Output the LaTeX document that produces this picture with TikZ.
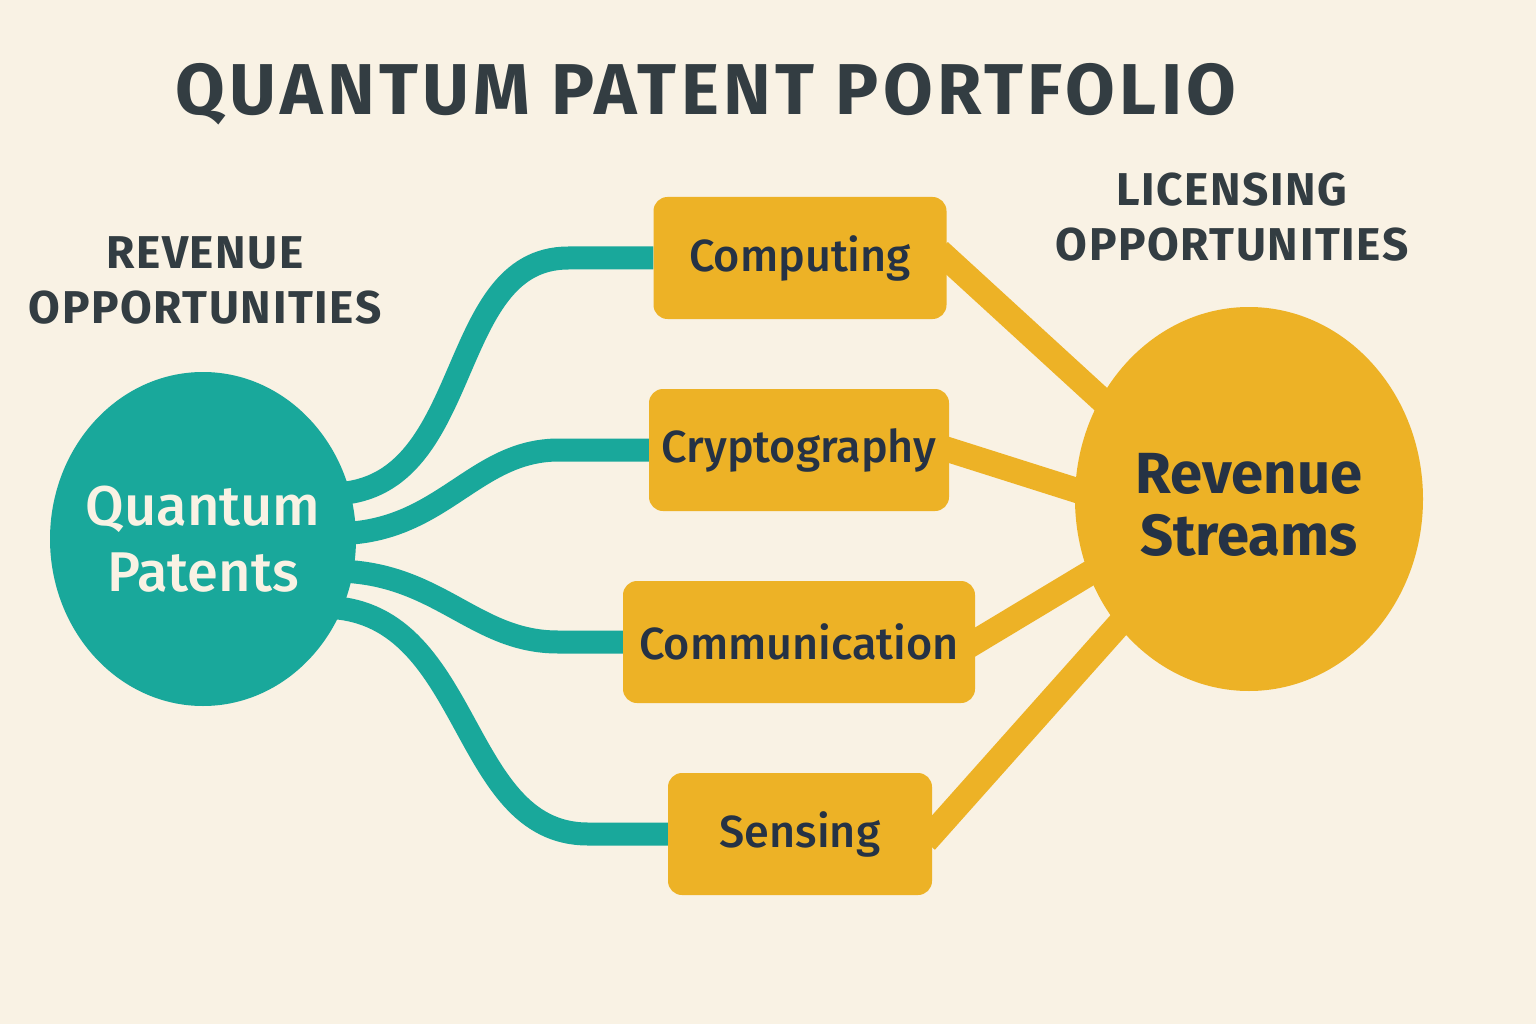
\documentclass[tikz,border=0pt]{standalone}
\usepackage{fontspec}
\setmainfont{Fira Sans}
\newfontfamily\mediumq{Fira Sans Medium}
\usetikzlibrary{shapes.geometric,calc}
\definecolor{paper}{HTML}{F9F2E4}
\definecolor{tealq}{HTML}{19A89B}
\definecolor{goldq}{HTML}{EDB226}
\definecolor{inkq}{HTML}{333D42}
\definecolor{navyq}{HTML}{253245}
\pgfdeclarelayer{background}
\pgfsetlayers{background,main}

\begin{document}
\begin{tikzpicture}
  [x=1pt,y=-1pt,every node/.style={inner sep=0pt},
   area/.style={fill=goldq,rounded corners=14pt,minimum height=122pt,text=navyq,font=\mediumq\fontsize{45}{50}\selectfont},
   heading/.style={text=inkq,align=center,font=\bfseries\fontsize{46}{55}\selectfont\addfontfeatures{LetterSpace=3.5}},
   branch/.style={draw=tealq,line width=23pt},
   stream/.style={draw=goldq,line width=25pt}]

  \node[text=inkq,font=\bfseries\fontsize{72}{80}\selectfont\addfontfeatures{LetterSpace=6}] (title) at (706,94) {QUANTUM PATENT PORTFOLIO};
  \node[heading] (revopp) at (205,280) {REVENUE\\OPPORTUNITIES};
  \node[heading] (licopp) at (1232,217) {LICENSING\\OPPORTUNITIES};

  \node[ellipse,fill=tealq,minimum width=306pt,minimum height=334pt,
    label={[text=paper,align=center,font=\mediumq\fontsize{56}{66}\selectfont]center:{Quantum\\Patents}}] (qp) at (203,539) {};
  \node[ellipse,fill=goldq,minimum width=348pt,minimum height=384pt,
    label={[text=navyq,align=center,font=\bfseries\fontsize{58}{62}\selectfont,yshift=-6pt]center:{Revenue\\Streams}}] (rs) at (1249,499) {};

  \node[area,minimum width=293pt] (comp) at (800,258) {Computing};
  \node[area,minimum width=300pt] (crypt) at (799,450) {Cryptography};
  \node[area,minimum width=352pt] (comm) at (799,642) {Communication};
  \node[area,minimum width=264pt] (sens) at (800,834) {Sensing};

\begin{pgfonlayer}{background}
\fill[paper] (0,0) rectangle (1536,1024);
\foreach \ang/\dest/\gap in {17/comp/85,2/crypt/90,348/comm/65,334/sens/80}
   \draw[branch,shorten <=-20pt] (qp.\ang) to[out=0,in=180] ($(\dest.west)+(-\gap,0)$) -- (\dest.west);
\foreach \src/\ang in {comp/146,crypt/177,comm/205,sens/224}
   \draw[stream,shorten <=-10pt,shorten >=-25pt] (\src.east) -- (rs.\ang);
\end{pgfonlayer}

\end{tikzpicture}
\end{document}
